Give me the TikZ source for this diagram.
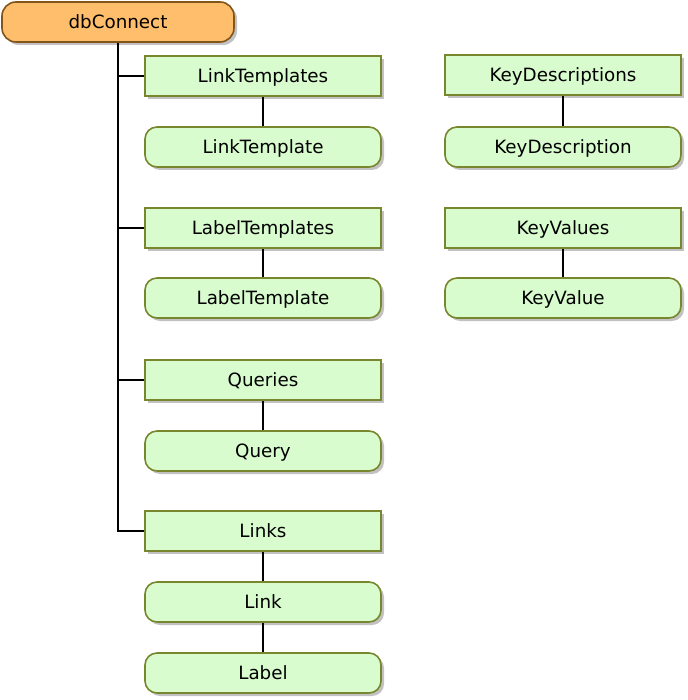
\documentclass[tikz,border=0pt]{standalone}
\usepackage{fontspec}
\setmainfont{DejaVu Sans}
\usepackage{tikz}
\usetikzlibrary{shadows}

\definecolor{orangefill}{RGB}{255,190,108}
\definecolor{orangeline}{RGB}{130,85,25}
\definecolor{greenfill}{RGB}{216,252,206}
\definecolor{greenline}{RGB}{120,135,45}

\begin{document}
\begin{tikzpicture}[x=1pt,y=-1pt,font=\fontsize{18.3}{21}\selectfont,
		boxshadow/.style={drop shadow={shadow xshift=3pt,shadow yshift=-3pt,fill=black!40,opacity=.6}}]
		\useasboundingbox (0,0) rectangle (687,700);
		\begin{scope}[every node/.style={draw=orangeline,line width=1.6pt,fill=orangefill,rounded corners=14pt,
				minimum width=232pt,minimum height=40pt,inner sep=0pt,text height=13.5pt,text depth=0pt,boxshadow}]
			\node (db) at (118,22) {dbConnect};
		\end{scope}
		
		\begin{scope}[every node/.style={draw=greenline,line width=1.6pt,fill=greenfill,
				minimum width=236pt,minimum height=40pt,inner sep=0pt,text height=13.5pt,text depth=0pt,boxshadow}]
			\node (LinkTemplates) at (263,76) {LinkTemplates};
			\node (LabelTemplates) at (263,228) {LabelTemplates};
			\node (Queries) at (263,380) {Queries};
			\node (Links) at (263,531) {Links};
			\node (KeyDescriptions) at (563,75) {KeyDescriptions};
			\node (KeyValues) at (563,228) {KeyValues};
		\end{scope}
		
		\begin{scope}[every node/.style={draw=greenline,line width=1.6pt,fill=greenfill,rounded corners=12pt,
				minimum width=236pt,minimum height=40pt,inner sep=0pt,text height=13.5pt,text depth=0pt,boxshadow}]
			\node (LinkTemplate) at (263,147) {LinkTemplate};
			\node (LabelTemplate) at (263,298) {LabelTemplate};
			\node (Query) at (263,451) {Query};
			\node (Link) at (263,602) {Link};
			\node (Label) at (263,673) {Label};
			\node (KeyDescription) at (563,147) {KeyDescription};
			\node (KeyValue) at (563,298) {KeyValue};
		\end{scope}
		
		\begin{scope}[line width=2pt]
			\draw (db.south) |- (Links.west);
			\draw (db.south |- LinkTemplates.west) -- (LinkTemplates.west);
			\draw (db.south |- LabelTemplates.west) -- (LabelTemplates.west);
			\draw (db.south |- Queries.west) -- (Queries.west);
			\path (LinkTemplates) edge (LinkTemplate);
			\path (LabelTemplates) edge (LabelTemplate);
			\path (Queries) edge (Query);
			\path (Links) edge (Link);
			\path (Link) edge (Label);
			\path (KeyDescriptions) edge (KeyDescription);
			\path (KeyValues) edge (KeyValue);
		\end{scope}
	\end{tikzpicture}
\end{document}
